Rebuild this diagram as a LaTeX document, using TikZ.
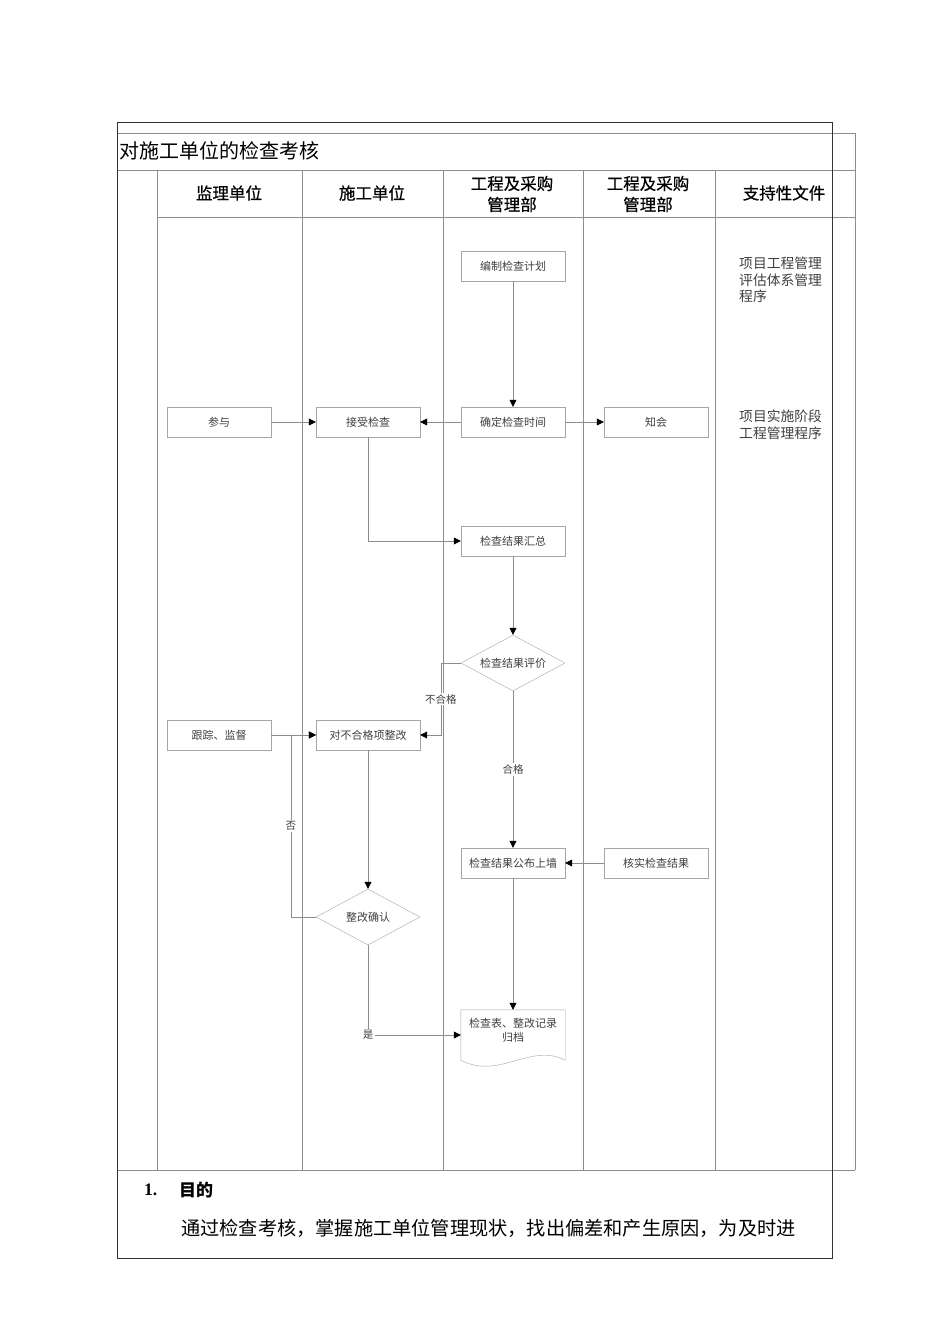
\documentclass[tikz,border=0pt]{standalone}
\usepackage{fontspec}
\newfontfamily\cjk{Noto Sans CJK SC}
\newfontfamily\cjkhead[FakeBold=0.6]{Noto Sans CJK SC}
\newfontfamily\latin{Liberation Serif}
\usetikzlibrary{shapes.geometric,arrows.meta}
\definecolor{linegray}{HTML}{8C8C8C}
\definecolor{boxgray}{HTML}{A6A6A6}
\definecolor{textgray}{HTML}{404040}
\begin{document}
\begin{tikzpicture}[x=1pt, y=-1pt, >={Triangle[color=black,length=7pt,width=7pt]},
	box/.style={draw=boxgray, fill=white, minimum width=104pt, minimum height=30pt, inner sep=1pt, text=textgray, font=\cjk\fontsize{11}{14}\selectfont},
	decision/.style={diamond, draw=boxgray, fill=white, aspect=1.86, inner sep=0pt, minimum width=104pt, minimum height=56pt, text=textgray, font=\cjk\fontsize{11}{14}\selectfont},
	flow/.style={draw=linegray, line width=0.6pt},
	tag/.style={fill=white, inner sep=1.5pt, text=textgray, font=\cjk\fontsize{10.5}{12}\selectfont},
	grid/.style={draw=linegray, line width=0.8pt},
	head/.style={align=center, font=\cjkhead\fontsize{16.5}{21}\selectfont},
	support/.style={anchor=north west, align=left, inner sep=0pt, text=textgray, font=\cjk\fontsize{13.8}{16.5}\selectfont}]
	\useasboundingbox[fill=white] (0,0) rectangle (950,1344);
	% table
	\draw[grid] (117,133) -- (855,133) -- (855,1170);
	\draw[grid] (117,170) -- (855,170);
	\draw[grid] (157,217) -- (855,217);
	\draw[grid] (117,1170) -- (855,1170);
	\foreach \x in {157,302,443,583,715}{
		\draw[grid] (\x,170) -- (\x,1170);
	}
	\draw[black!80, line width=1pt] (117,122) rectangle (832,1258);
	\node[anchor=west, inner sep=0pt, font=\cjk\fontsize{20}{24}\selectfont] (title) at (119,151) {对施工单位的检查考核};
	\node[head] (hsup) at (229,193) {监理单位};
	\node[head] (hcon) at (372,193) {施工单位};
	\node[head] (hpro) at (512,194) {工程及采购\\管理部};
	\node[head] (hpro2) at (648,194) {工程及采购\\管理部};
	\node[head] (hdoc) at (784,193) {支持性文件};
	% steps
	\node[box] (plan) at (513,266) {编制检查计划};
	\node[box] (settime) at (513,422) {确定检查时间};
	\node[box] (notify) at (656,422) {知会};
	\node[box] (join) at (219,422) {参与};
	\node[box] (accept) at (368,422) {接受检查};
	\node[box] (summary) at (513,541) {检查结果汇总};
	\node[decision] (eval) at (513,663) {检查结果评价};
	\node[box] (track) at (219,735) {跟踪、监督};
	\node[box] (fix) at (368,735) {对不合格项整改};
	\node[box] (post) at (513,863) {检查结果公布上墙};
	\node[box] (verify) at (656,863) {核实检查结果};
	\node[decision] (confirm) at (368,917) {整改确认};
	\node[box, draw=none, fill=none, minimum height=50pt, align=center] (archive) at (513,1035) {检查表、整改记录\\归档\\[-4pt]\mbox{}};
	\draw[draw=boxgray] (archive.south east) -- (archive.north east) -- (archive.north west) -- (archive.south west)
		.. controls +(39,20) and +(-35,-18) .. (archive.south east);
	% supporting documents
	\node[support] (doc1) at (739,257) {项目工程管理\\评估体系管理\\程序};
	\node[support] (doc2) at (739,410) {项目实施阶段\\工程管理程序};
	% connectors
	\draw[flow,->] (plan) -- (settime);
	\draw[flow,->] (settime) -- (notify);
	\draw[flow,->] (settime) -- (accept);
	\draw[flow,->] (join) -- (accept);
	\draw[flow,->] (accept) |- (summary);
	\draw[flow,->] (summary) -- (eval);
	\draw[flow,->] (eval.west) -- ++(-20,0) |- node[tag, pos=0.25]{不合格} (fix);
	\draw[flow,->] (eval) -- node[tag]{合格} (post);
	\draw[flow,->] (verify) -- (post);
	\draw[flow,->] (track) -- (fix);
	\draw[flow,->] (fix) -- (confirm);
	\draw[flow,->] (confirm.west) -- ++(-25,0) |- node[tag, pos=0.25]{否} (fix);
	\draw[flow,->] (post) -- (archive);
	\draw[flow,->] (confirm) |- node[tag, pos=0.5]{是} (archive);
	% purpose
	\node[anchor=west, inner sep=0pt, font=\latin\bfseries\fontsize{17.5}{20}\selectfont] (num) at (144,1190) {1.};
	\node[anchor=west, inner sep=0pt, font=\cjk\bfseries\fontsize{17}{20}\selectfont] (aim) at (179,1190) {目的};
	\node[anchor=west, inner sep=0pt, font=\cjk\fontsize{19.2}{22}\selectfont] (body) at (181,1228) {通过检查考核，掌握施工单位管理现状，找出偏差和产生原因，为及时进};
\end{tikzpicture}
\end{document}
